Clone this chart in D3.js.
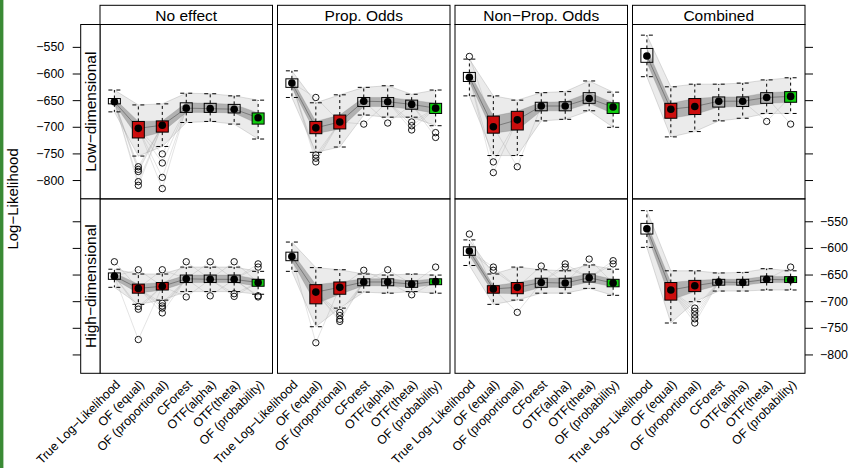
<!DOCTYPE html>
<html>
<head>
<meta charset="utf-8">
<script src="https://cdn.jsdelivr.net/npm/d3@7"></script>
<style>
  body { margin: 0; background: #fff; }
  svg { display: block; font-family: "Liberation Sans", Arial, Helvetica, sans-serif; }
</style>
</head>
<body>
<svg id="chart" width="850" height="468"></svg>
<script>
/* ========================= DATA ======================== */

const methods = ["True Log\u2212Likelihood", "OF (equal)", "OF (proportional)", "CForest",
                 "OTF(alpha)", "OTF(theta)", "OF (probability)"];
const boxFills = ["none", "#cd0000", "#cd0000", "none", "none", "none", "#00cd00"];
const effects = ["No effect", "Prop. Odds", "Non\u2212Prop. Odds", "Combined"];
const dims = ["Low\u2212dimensional", "High\u2212dimensional"];
const yTicks = [-550, -600, -650, -700, -750, -800];

// per method: [lower whisker, q1, median, q3, upper whisker]
const lowNoEffect = [[-672, -657, -653, -647, -631], [-755, -721, -703, -690, -659], [-737, -710, -697, -689, -657],
                     [-692, -673, -665, -655, -637], [-690, -673, -666, -656, -638], [-695, -674, -667, -658, -642],
                     [-723, -695, -683, -674, -650]];
const lowPropOdds = [[-645, -626, -618, -610, -595], [-748, -713, -702, -690, -655], [-738, -704, -691, -678, -640],
                     [-678, -662, -652, -645, -626], [-682, -662, -653, -645, -623], [-682, -667, -658, -650, -639],
                     [-698, -675, -665, -656, -631]];
const lowNonProp = [[-642, -615, -607, -598, -573], [-754, -712, -700, -680, -642], [-754, -706, -687, -671, -650],
                    [-689, -670, -661, -654, -636], [-686, -670, -661, -653, -634], [-670, -656, -647, -636, -614],
                    [-701, -675, -663, -655, -635]];
const lowCombined = [[-606, -579, -567, -553, -528], [-719, -684, -667, -656, -625], [-709, -677, -662, -647, -620],
                     [-689, -663, -652, -644, -620], [-684, -662, -652, -644, -618], [-675, -656, -645, -636, -612],
                     [-675, -654, -643, -634, -608]];
const highNoEffect = [[-674, -659, -653, -647, -640], [-706, -685, -676, -668, -649], [-698, -679, -672, -665, -649],
                      [-682, -665, -658, -651, -636], [-682, -665, -659, -651, -636], [-682, -665, -659, -651, -636],
                      [-687, -672, -665, -659, -644]];
const highPropOdds = [[-644, -624, -616, -608, -589], [-748, -705, -683, -669, -637], [-713, -687, -674, -664, -641],
                      [-683, -671, -664, -658, -649], [-685, -671, -664, -658, -651], [-682, -674, -668, -662, -649],
                      [-685, -669, -663, -658, -651]];
const highNonProp = [[-633, -614, -606, -598, -585], [-706, -685, -677, -671, -649], [-698, -686, -674, -665, -636],
                     [-685, -674, -665, -657, -641], [-685, -674, -666, -657, -643], [-676, -664, -656, -649, -632],
                     [-689, -673, -666, -659, -640]];
const highCombined = [[-599, -574, -564, -554, -530], [-741, -698, -679, -665, -643], [-701, -682, -671, -661, -643],
                      [-681, -670, -664, -659, -647], [-681, -670, -665, -659, -646], [-679, -665, -659, -653, -639],
                      [-679, -665, -660, -654, -643]];

// outliers per method
const lowNoEffectOut = [[], [-775, -780, -784, -803, -810], [-751, -768, -795, -816], [], [], [], []];
const lowPropOddsOut = [[], [-645, -753, -759, -766], [], [-695], [-693], [-691, -698, -706], [-711, -720]];
const lowNonPropOut = [[-568], [-766, -786], [-775], [], [], [], []];
const lowCombinedOut = [[], [], [], [], [], [-690], [-695]];
const highNoEffectOut = [[-626], [-641, -710, -715, -772], [-641, -704, -709, -713, -722], [-626, -692],
                         [-626, -690], [-626, -686, -691], [-630, -636, -690, -692]];
const highPropOddsOut = [[], [-778], [-721, -727, -734, -738], [-642], [-641], [-688], [-636]];
const highNonPropOut = [[-574], [-636, -642], [-721], [-634], [-630, -636], [-621], [-624, -630]];
const highCombinedOut = [[], [], [-713, -719, -726, -733, -741], [], [], [], [-636]];

/* ======================= LAYOUT ======================== */

const svg = d3.select("#chart");
const margin = { left: 100, top: 24.5 };
const panelW = 172.5, panelH = 174.4, gapX = 5;
const stripTop = 5.3, stripLeft = 80.7;
const yDomain = [-835.4, -508];

const panels = [
    { row: 0, col: 0, stats: lowNoEffect,  out: lowNoEffectOut },
    { row: 0, col: 1, stats: lowPropOdds,  out: lowPropOddsOut },
    { row: 0, col: 2, stats: lowNonProp,   out: lowNonPropOut },
    { row: 0, col: 3, stats: lowCombined,  out: lowCombinedOut },
    { row: 1, col: 0, stats: highNoEffect, out: highNoEffectOut },
    { row: 1, col: 1, stats: highPropOdds, out: highPropOddsOut },
    { row: 1, col: 2, stats: highNonProp,  out: highNonPropOut },
    { row: 1, col: 3, stats: highCombined, out: highCombinedOut }
];

/* =================== DRAW ============================== */

svg.append("rect")
   .attr("x", 0).attr("y", 0)
   .attr("width", 3.4).attr("height", 468)
   .attr("fill", "#3a8a35");

panels.forEach(drawPanel);
drawStrips();
drawYAxes();

svg.append("text")
   .attr("transform", "translate(18," + (margin.top + panelH) + ") rotate(-90)")
   .attr("text-anchor", "middle")
   .style("font-size", "15px")
   .text("Log\u2212Likelihood");

function drawPanel(p) {
    const x0 = margin.left + p.col * (panelW + gapX);
    const y0 = margin.top + p.row * panelH;

    const x = d3.scalePoint()
                .domain(methods)
                .range([x0, x0 + panelW])
                .padding(0.6);
    const y = d3.scaleLinear()
                .domain(yDomain)
                .range([y0 + panelH, y0]);
    const bw = x.step() * 0.5;
    const g = svg.append("g");

    // bundle of per-run lines, shown by its spread
    const outer = d3.area()
                    .x((d, i) => x(methods[i]))
                    .y0(d => y(d[0]))
                    .y1(d => y(d[4]));
    const inner = d3.area()
                    .x((d, i) => x(methods[i]))
                    .y0(d => y(d[1]))
                    .y1(d => y(d[3]));
    g.append("path").attr("d", outer(p.stats))
     .attr("fill", "#888").attr("fill-opacity", 0.17);
    g.append("path").attr("d", inner(p.stats))
     .attr("fill", "#555").attr("fill-opacity", 0.38);

    [0, 1, 2, 3, 4].forEach(k => {
        const line = d3.line()
                       .x((d, i) => x(methods[i]))
                       .y(d => y(d[k]));
        g.append("path").attr("d", line(p.stats))
         .attr("fill", "none")
         .attr("stroke", k === 2 ? "#333" : "#777")
         .attr("stroke-opacity", k === 2 ? 0.55 : 0.3)
         .attr("stroke-width", 0.8);
    });

    // lines of runs that end as outliers
    p.out.forEach((vals, i) => {
        vals.forEach(v => {
            [i - 1, i + 1].filter(j => j >= 0 && j < methods.length).forEach(j => {
                g.append("line")
                 .attr("x1", x(methods[i])).attr("y1", y(v))
                 .attr("x2", x(methods[j])).attr("y2", y(p.stats[j][2]))
                 .attr("stroke", "#999").attr("stroke-opacity", 0.45)
                 .attr("stroke-width", 0.6);
            });
        });
    });

    // boxes
    p.stats.forEach((s, i) => {
        const cx = x(methods[i]);
        g.append("rect")
         .attr("x", cx - bw / 2).attr("y", y(s[3]))
         .attr("width", bw).attr("height", y(s[1]) - y(s[3]))
         .attr("fill", boxFills[i]).attr("fill-opacity", 0.93)
         .attr("stroke", "#000").attr("stroke-width", 1);

        [[s[3], s[4]], [s[1], s[0]]].forEach(w => {
            g.append("line")
             .attr("x1", cx).attr("x2", cx)
             .attr("y1", y(w[0])).attr("y2", y(w[1]))
             .attr("stroke", "#000").attr("stroke-dasharray", "3,3");
            g.append("line")
             .attr("x1", cx - bw / 2).attr("x2", cx + bw / 2)
             .attr("y1", y(w[1])).attr("y2", y(w[1]))
             .attr("stroke", "#000").attr("stroke-dasharray", "4,4");
        });

        g.append("circle")
         .attr("cx", cx).attr("cy", y(s[2])).attr("r", 3.8)
         .attr("fill", "#000");

        p.out[i].forEach(v => {
            g.append("circle")
             .attr("cx", cx).attr("cy", y(v)).attr("r", 3.2)
             .attr("fill", "none").attr("stroke", "#000").attr("stroke-width", 0.9);
        });
    });

    g.append("rect")
     .attr("x", x0).attr("y", y0)
     .attr("width", panelW).attr("height", panelH)
     .attr("fill", "none").attr("stroke", "#000");

    if (p.row === 1) {
        const ax = g.append("g")
                    .attr("transform", "translate(0," + (y0 + panelH) + ")")
                    .call(d3.axisBottom(x).tickSize(0).tickPadding(0));
        ax.select(".domain").remove();
        ax.selectAll("text")
          .attr("x", 0).attr("y", 0).attr("dy", "0.35em")
          .attr("text-anchor", "end")
          .attr("transform", "translate(3,9) rotate(-45)")
          .style("font-size", "12.4px")
          .style("font-family", "inherit")
          .attr("fill", "#000");
    }
}

function drawStrips() {
    effects.forEach((e, c) => {
        const x0 = margin.left + c * (panelW + gapX);
        svg.append("rect")
           .attr("x", x0).attr("y", stripTop)
           .attr("width", panelW).attr("height", margin.top - stripTop)
           .attr("fill", "#fff").attr("stroke", "#000");
        svg.append("text")
           .attr("x", x0 + panelW / 2).attr("y", 20.8)
           .attr("text-anchor", "middle")
           .style("font-size", "15.5px")
           .text(e);
    });
    dims.forEach((d, r) => {
        const y0 = margin.top + r * panelH;
        svg.append("rect")
           .attr("x", stripLeft).attr("y", y0)
           .attr("width", margin.left - stripLeft).attr("height", panelH)
           .attr("fill", "#fff").attr("stroke", "#000");
        svg.append("text")
           .attr("transform", "translate(96.3," + (y0 + panelH / 2) + ") rotate(-90)")
           .attr("text-anchor", "middle")
           .style("font-size", "15.5px")
           .text(d);
    });
}

function drawYAxes() {
    const right = margin.left + 4 * panelW + 3 * gapX;
    dims.forEach((d, r) => {
        const y0 = margin.top + r * panelH;
        const y = d3.scaleLinear()
                    .domain(yDomain)
                    .range([y0 + panelH, y0]);
        const left = d3.axisLeft(y).tickValues(yTicks).tickSize(8).tickPadding(8.5);
        const rightAx = d3.axisRight(y).tickValues(yTicks).tickSize(8).tickPadding(7);
        if (r === 1) left.tickFormat("");
        if (r === 0) rightAx.tickFormat("");
        [svg.append("g").attr("transform", "translate(" + stripLeft + ",0)").call(left),
         svg.append("g").attr("transform", "translate(" + right + ",0)").call(rightAx)]
            .forEach(a => {
                a.select(".domain").remove();
                a.selectAll("text").style("font-size", "12.4px").style("font-family", "inherit").attr("fill", "#000");
                a.selectAll("line").attr("stroke", "#000");
            });
    });
}
</script>
</body>
</html>
